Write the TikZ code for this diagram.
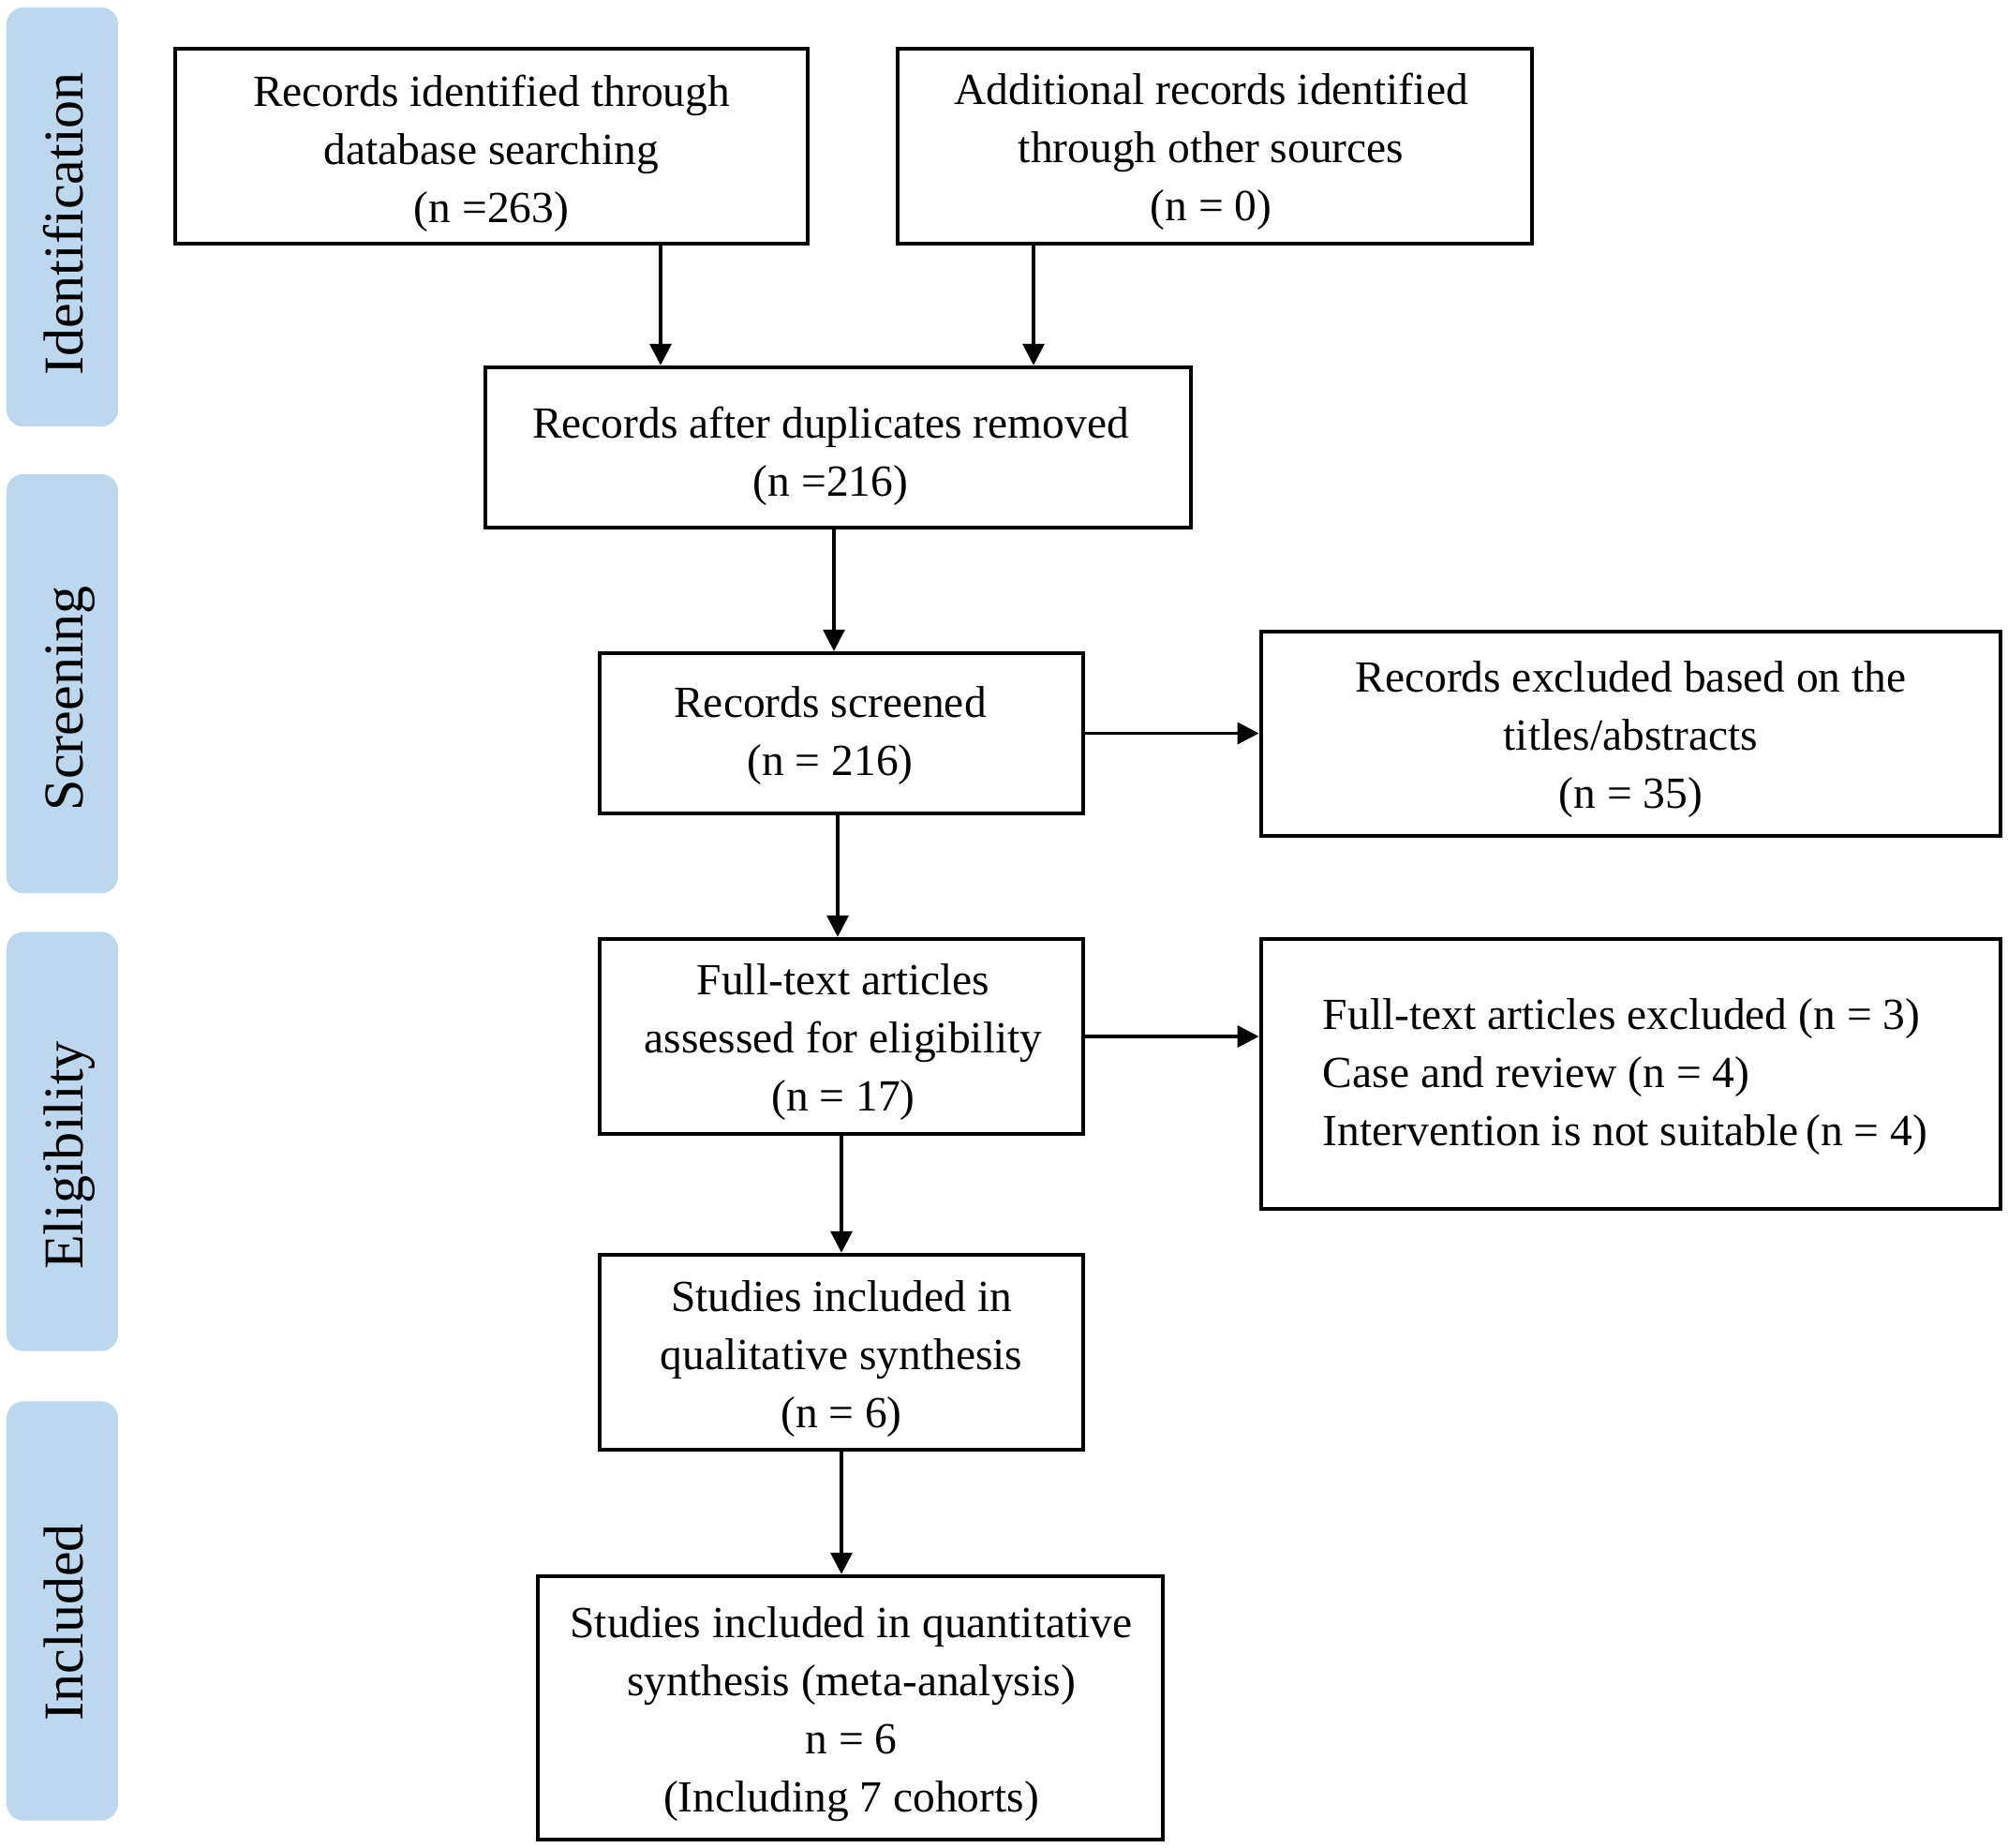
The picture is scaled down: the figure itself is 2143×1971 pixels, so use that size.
\documentclass[tikz,border=0pt]{standalone}
\usepackage{fontspec}
\setmainfont{Liberation Serif}
\usetikzlibrary{arrows.meta}
\definecolor{barblue}{RGB}{189,215,238}
\begin{document}
\begin{tikzpicture}[x=0.01cm,y=-0.01cm,
  box/.style={draw=black, line width=1.25pt, fill=white, inner sep=0pt},
  txt/.style={inner sep=0pt, align=center, font=\fontsize{13.5}{17.64}\selectfont},
  bar/.style={fill=barblue, draw=none, rounded corners=0.18cm, inner sep=0pt,
    minimum width=1.19cm, minimum height=4.47cm},
  barlabel/.style={rotate=90, anchor=base, inner sep=0pt, font=\fontsize{17.07}{20}\selectfont},
  arr/.style={line width=1pt, -{Triangle[length=0.23cm, width=0.23cm]}}]
\useasboundingbox (0,0) rectangle (2143,1971);

% phase bars
\node[bar] (bI) at (66.5,231.5) {};
\node[bar] (bS) at (66.5,729.5) {};
\node[bar] (bE) at (66.5,1218) {};
\node[bar] (bN) at (66.5,1719) {};
\node[barlabel] (lI) at (88,239) {Identification};
\node[barlabel] (lS) at (88,745) {Screening};
\node[barlabel] (lE) at (88,1233) {Eligibility};
\node[barlabel] (lN) at (88,1731) {Included};

% boxes
\node[box, minimum width=6.75cm, minimum height=2.08cm] (A) at (524.5,156) {};
\node[box, minimum width=6.77cm, minimum height=2.08cm] (B) at (1296.5,156) {};
\node[box, minimum width=7.53cm, minimum height=1.71cm] (C) at (894.5,477.5) {};
\node[box, minimum width=5.16cm, minimum height=1.71cm] (D) at (898,782.5) {};
\node[box, minimum width=7.89cm, minimum height=2.18cm] (E) at (1740.5,783) {};
\node[box, minimum width=5.16cm, minimum height=2.08cm] (F) at (898,1106) {};
\node[box, minimum width=7.89cm, minimum height=2.88cm] (G) at (1740.5,1146) {};
\node[box, minimum width=5.16cm, minimum height=2.08cm] (H) at (898,1443) {};
\node[box, minimum width=6.67cm, minimum height=2.81cm] (I) at (907.5,1822.5) {};

% box texts
\node[txt] (At) at ([shift={(0,8)}]A.center)
  {Records identified through\\database searching\\(n =263)};
\node[txt] (Bt) at ([shift={(-4,6)}]B.center)
  {Additional records identified\\through other sources\\(n = 0)};
\node[txt] (Ct) at ([shift={(-8,9)}]C.center)
  {Records after duplicates removed\\(n =216)};
\node[txt] (Dt) at ([shift={(-12,3)}]D.center)
  {Records screened\\(n = 216)};
\node[txt] (Et) at ([shift={(0,6)}]E.center)
  {Records excluded based on the\\titles/abstracts\\(n = 35)};
\node[txt] (Ft) at ([shift={(2,6)}]F.center)
  {Full-text articles\\assessed for eligibility\\(n = 17)};
\node[txt, align=left] (Gt) at ([shift={(-6,3)}]G.center)
  {Full-text articles excluded (n = 3)\\Case and review (n = 4)\\Intervention is not suitable\,(n = 4)};
\node[txt] (Ht) at ([shift={(0,7)}]H.center)
  {Studies included in\\qualitative synthesis\\(n = 6)};
\node[txt] (It) at ([shift={(1,7)}]I.center)
  {Studies included in quantitative\\synthesis (meta-analysis)\\n = 6\\(Including 7 cohorts)};

% connector x positions
\coordinate (xa) at (705,0);
\coordinate (xb) at (1103,0);
\coordinate (xc) at (890,0);
\coordinate (xd) at (894,0);
\coordinate (xf) at (898,0);

\draw[arr] (A.south -| xa) -- (C.north -| xa);
\draw[arr] (B.south -| xb) -- (C.north -| xb);
\draw[arr] (C.south -| xc) -- (D.north -| xc);
\draw[arr] (D.south -| xd) -- (F.north -| xd);
\draw[arr] (F.south -| xf) -- (H.north -| xf);
\draw[arr] (H.south -| xf) -- (I.north -| xf);
\draw[arr] (D.east) -- (D.east -| E.west);
\draw[arr] (F.east) -- (F.east -| G.west);
\end{tikzpicture}
\end{document}
